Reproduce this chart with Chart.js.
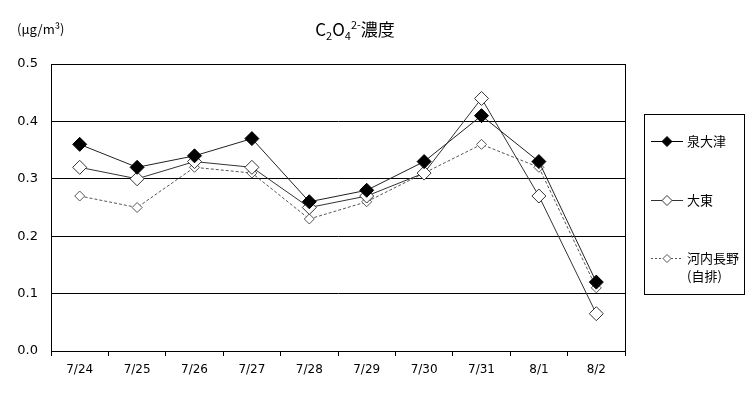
<!DOCTYPE html>
<html><head><meta charset="utf-8">
<script src="https://cdn.jsdelivr.net/npm/chart.js@4/dist/chart.umd.min.js"></script>
<style>
body{margin:0;background:#fff;font-family:"Noto Sans CJK JP","DejaVu Sans",sans-serif;}
#wrap{position:relative;width:756px;height:400px;}
#title{position:absolute;left:0;width:710px;top:16px;text-align:center;font-size:17px;color:#000;}
#title sub,#title sup{font-size:11px;}
#unit{position:absolute;left:17px;top:19px;font-size:13px;}
#legend{position:absolute;left:644px;top:114px;width:101px;height:181px;border:1px solid #000;box-sizing:border-box;font-size:13px;}
.li{position:absolute;left:4px;}
.li canvas{position:absolute;left:0;top:0;}
.li span{position:absolute;left:38px;white-space:nowrap;line-height:18px;}
</style></head>
<body><div id="wrap">
<canvas id="c" width="756" height="400"></canvas>
<div id="title">C<sub>2</sub>O<sub>4</sub><sup>2-</sup>濃度</div>
<div id="unit">(μg/m³)</div>
<div id="legend"></div>
</div>
<script>
const categories=["7/24","7/25","7/26","7/27","7/28","7/29","7/30","7/31","8/1","8/2"];
const izumiotsu=[0.36,0.32,0.34,0.37,0.26,0.28,0.33,0.41,0.33,0.12];
const daito=[0.32,0.30,0.33,0.32,0.25,0.27,0.31,0.44,0.27,0.065];
const kawachinagano=[0.27,0.25,0.32,0.31,0.23,0.26,0.31,0.36,0.32,0.11];
const yTicks=[0,0.1,0.2,0.3,0.4,0.5];
const seriesNames=["泉大津","大東","河内長野"];

const frame={id:'frame',afterDraw(ch){const a=ch.chartArea,c=ch.ctx;c.save();c.strokeStyle='#000';c.lineWidth=1;c.strokeRect(Math.round(a.left)+0.5,Math.round(a.top)+0.5,Math.round(a.right-a.left),Math.round(a.bottom-a.top));c.restore();}};

new Chart(document.getElementById('c'),{
type:'line',
data:{labels:categories,datasets:[
{label:seriesNames[2],data:kawachinagano,borderColor:'#555',borderWidth:1,borderDash:[3,2],pointStyle:'rectRot',pointRadius:5,pointBackgroundColor:'#fff',pointBorderColor:'#555',pointBorderWidth:1,order:3},
{label:seriesNames[1],data:daito,borderColor:'#333',borderWidth:1,pointStyle:'rectRot',pointRadius:7,pointBackgroundColor:'#fff',pointBorderColor:'#333',pointBorderWidth:1,order:2},
{label:seriesNames[0],data:izumiotsu,borderColor:'#222',borderWidth:1,pointStyle:'rectRot',pointRadius:7,pointBackgroundColor:'#000',pointBorderColor:'#000',pointBorderWidth:1,order:1}
]},
options:{responsive:false,animation:false,
layout:{padding:{left:0,right:131,top:64,bottom:19}},
plugins:{legend:{display:false},tooltip:{enabled:false}},
scales:{
x:{offset:true,grid:{offset:true,drawOnChartArea:false,tickLength:5,color:'#000'},border:{color:'#000'},
 ticks:{color:'#000',font:{size:12,family:'"DejaVu Sans"'},padding:7,maxRotation:0},afterFit(s){s.height=30;}},
y:{min:0,max:0.5,afterBuildTicks(s){s.ticks=yTicks.map(v=>({value:v}));},
 grid:{color:'#000',drawTicks:false},border:{color:'#000'},
 ticks:{color:'#000',font:{size:13,family:'"DejaVu Sans"'},padding:13,callback:v=>v.toFixed(1)},afterFit(s){s.width=51;}}
}},
plugins:[frame]
});

// legend
const lg=document.getElementById('legend');
const items=[{n:'泉大津',y:26,fill:'#000',r:5,dash:[],col:'#000'},{n:'大東',y:85,fill:'#fff',r:5,dash:[],col:'#333'},{n:'河内長野<br>(自排)',y:143,fill:'#fff',r:4,dash:[2,2],col:'#555'}];
items.forEach(it=>{const d=document.createElement('div');d.className='li';d.style.top=(it.y-9)+'px';
const cv=document.createElement('canvas');cv.width=40;cv.height=18;const c=cv.getContext('2d');
c.strokeStyle=it.col;c.lineWidth=1;c.setLineDash(it.dash);c.beginPath();c.moveTo(2,9.5);c.lineTo(34,9.5);c.stroke();c.setLineDash([]);
c.beginPath();c.moveTo(18,9.5-it.r);c.lineTo(18+it.r,9.5);c.lineTo(18,9.5+it.r);c.lineTo(18-it.r,9.5);c.closePath();c.fillStyle=it.fill;c.fill();c.strokeStyle=it.col;c.stroke();
d.appendChild(cv);const s=document.createElement('span');s.innerHTML=it.n;s.style.top='0px';d.appendChild(s);lg.appendChild(d);});
</script>
</body></html>
